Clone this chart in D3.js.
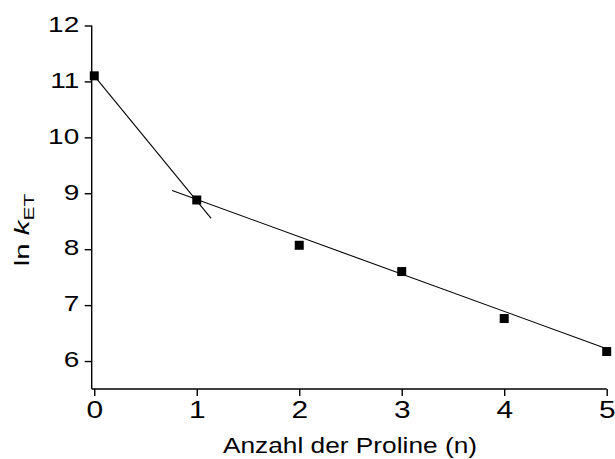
<!DOCTYPE html>
<html><head><meta charset="utf-8">
<script src="https://cdn.jsdelivr.net/npm/d3@7"></script>
<style>
html,body{margin:0;padding:0;background:#fff;}
svg text{font-family:"Liberation Sans",Arial,Helvetica,sans-serif;fill:#000;}
</style></head>
<body><svg id="c" width="615" height="459"></svg>
<script>
// Data
const prolineCounts = [0, 1, 2, 3, 4, 5];
const lnKet = [11.1, 8.88, 8.07, 7.60, 6.76, 6.17];
const fitLine1 = [[0, 11.1], [1.14, 8.55]];
const fitLine2 = [[0.76, 9.05], [5, 6.22]];
const xTicks = [0, 1, 2, 3, 4, 5];
const yTicks = [6, 7, 8, 9, 10, 11, 12];
const xTitle = "Anzahl der Proline (n)";

const svg = d3.select("#c");
const x = d3.scaleLinear().domain([-0.025, 5]).range([91.7, 606.7]);
const y = d3.scaleLinear().domain([5.5, 12]).range([389, 25.5]);
const SX = 1.3;

// x axis
const gx = svg.append("g").attr("transform", `translate(0,${y(5.5)})`)
  .call(d3.axisBottom(x).tickValues(xTicks).tickFormat(d3.format("d")).tickSize(7).tickSizeOuter(0));
gx.select(".domain").attr("stroke-width", 1.4);
gx.selectAll(".tick line").attr("stroke-width", 1.4);
gx.selectAll(".tick text").attr("font-size", 23).attr("y", 13).attr("dy", "0.71em")
  .attr("transform", `scale(${SX},1)`);

// y axis
const gy = svg.append("g").attr("transform", `translate(${x(-0.025)},0)`)
  .call(d3.axisLeft(y).tickValues(yTicks).tickFormat(d3.format("d")).tickSize(7).tickSizeOuter(0));
gy.select(".domain").attr("stroke-width", 1.4);
gy.selectAll(".tick line").attr("stroke-width", 1.4);
gy.selectAll(".tick text").attr("font-size", 21.5).attr("x", -12.5 / SX).attr("dy", "0.27em")
  .attr("transform", `scale(${SX},1)`);
gy.select(".domain").attr("d", `M0,${y(12)}V${y(5.5)}`);
gx.select(".domain").attr("d", `M${x(-0.025)},0H${x(5)}`);

// fit lines
const line = d3.line().x(d => x(d[0])).y(d => y(d[1]));
[fitLine1, fitLine2].forEach(fl => {
  svg.append("path").attr("d", line(fl)).attr("fill", "none").attr("stroke", "#000").attr("stroke-width", 1.1);
});

// markers
const ms = 9;
svg.selectAll("rect.pt").data(prolineCounts.map((n, i) => [n, lnKet[i]])).enter()
  .append("rect").attr("class", "pt")
  .attr("x", d => x(d[0]) - ms / 2).attr("y", d => y(d[1]) - ms / 2)
  .attr("width", ms).attr("height", ms).attr("fill", "#000");

// x title
svg.append("text").attr("x", 350).attr("y", 453).attr("text-anchor", "middle")
  .attr("font-size", 21.5).attr("textLength", 254).attr("lengthAdjust", "spacingAndGlyphs")
  .text(xTitle);

// y title
const yt = svg.append("text").attr("transform", `translate(29,230) rotate(-90) scale(1.4,1)`)
  .attr("text-anchor", "middle").attr("font-size", 21);
yt.append("tspan").text("ln ");
yt.append("tspan").attr("font-style", "italic").text("k");
yt.append("tspan").attr("font-size", 15).attr("dy", 5).text("ET");
</script></body></html>
